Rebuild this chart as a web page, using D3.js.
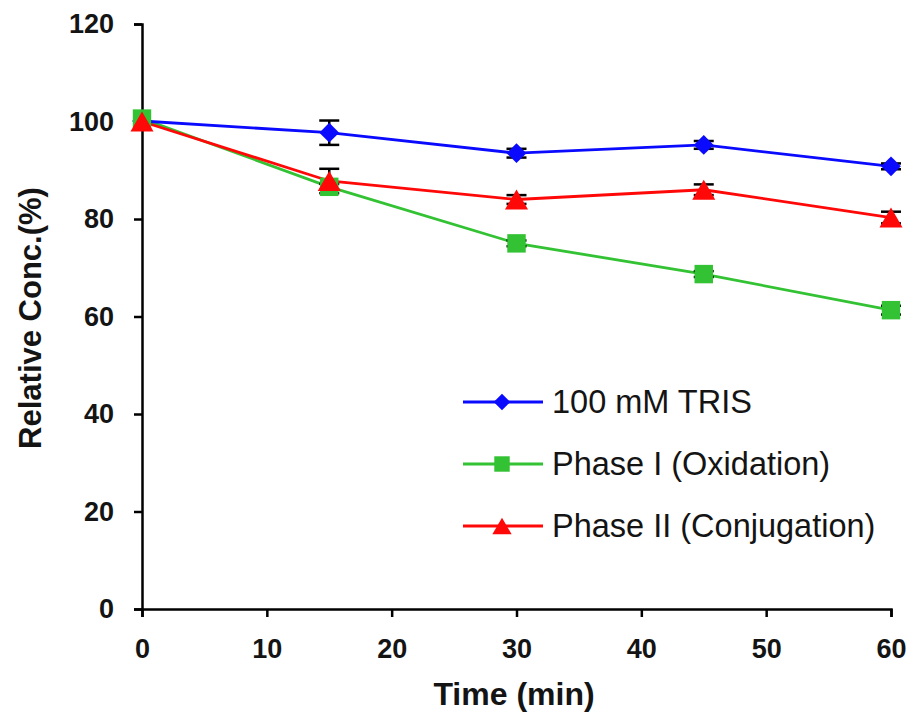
<!DOCTYPE html>
<html><head><meta charset="utf-8">
<script src="https://cdn.jsdelivr.net/npm/d3@7"></script>
<style>body{margin:0;background:#fff}svg{display:block}</style>
</head><body>
<svg id="c" width="915" height="720"></svg>
<script>
const times = [0, 15, 30, 45, 60];
const trisVals = [100.1, 97.7, 93.5, 95.2, 90.8];
const trisErr = [0.4, 2.5, 0.9, 0.8, 0.6];
const phase1Vals = [100.6, 86.6, 75.0, 68.7, 61.3];
const phase1Err = [0.4, 0.6, 0.6, 0.6, 0.9];
const phase2Vals = [100.0, 87.8, 84.0, 86.0, 80.3];
const phase2Err = [0.4, 2.5, 0.9, 1.1, 1.2];
const seriesNames = ["100 mM TRIS", "Phase I (Oxidation)", "Phase II (Conjugation)"];
const seriesColors = ["#0a0aff", "#33c233", "#ff0808"];
const seriesShapes = ["diamond", "square", "triangle"];
const xTicks = [0, 10, 20, 30, 40, 50, 60];
const yTicks = [0, 20, 40, 60, 80, 100, 120];

const svg = d3.select("#c");
const x = d3.scaleLinear().domain([0, 60]).range([142, 891]);
const y = d3.scaleLinear().domain([0, 120]).range([609, 24]);

const errs = [trisErr, phase1Err, phase2Err];
const series = [trisVals, phase1Vals, phase2Vals].map((v, i) => ({
  name: seriesNames[i], color: seriesColors[i], shape: seriesShapes[i],
  pts: times.map((t, j) => ({t, v: v[j], e: errs[i][j]}))
}));

const symSize = {diamond: 250, square: 340, triangle: 230};
function symType(shape) {
  return shape === "diamond" ? (d3.symbolDiamond2 || d3.symbolDiamond) : shape === "square" ? d3.symbolSquare : d3.symbolTriangle;
}
function triShift(size) { // shift so triangle bbox is centred on point
  const s = Math.sqrt(4 * size / Math.sqrt(3));
  return s * Math.sqrt(3) / 2 / 6;
}

const font = "'Liberation Sans', Arial, sans-serif";
const yAxis = svg.append("g").attr("transform", "translate(142,0)")
  .call(d3.axisLeft(y).tickValues(yTicks).tickSize(8).tickPadding(20));
const xAxis = svg.append("g").attr("transform", "translate(0,609)")
  .call(d3.axisBottom(x).tickValues(xTicks).tickSize(8).tickPadding(22));
[yAxis, xAxis].forEach(g => {
  g.select(".domain").attr("stroke", "#000").attr("stroke-width", 2.5);
  g.selectAll(".tick line").attr("stroke", "#000").attr("stroke-width", 2.5);
  g.selectAll("text").attr("fill", "#141414").style("font-family", font)
    .style("font-size", "27px").style("font-weight", "bold");
});

svg.append("text").attr("transform", "translate(41,318) rotate(-90)")
  .attr("text-anchor", "middle").style("font-family", font).style("font-size", "31px")
  .style("font-weight", "bold").attr("fill", "#141414").text("Relative Conc.(%)");
svg.append("text").attr("x", 514).attr("y", 705)
  .attr("text-anchor", "middle").style("font-family", font).style("font-size", "32px")
  .style("font-weight", "bold").attr("fill", "#141414").text("Time (min)");

const line = d3.line().x(d => x(d.t)).y(d => y(d.v));
[1, 2, 0].forEach(i => {
  const s = series[i];
  svg.append("path").datum(s.pts).attr("d", line).attr("fill", "none")
    .attr("stroke", s.color).attr("stroke-width", 2.8);
});
// error bars (behind markers)
series.forEach(s => {
  const g = svg.append("g").attr("stroke", "#000").attr("stroke-width", 2.5);
  s.pts.filter(d => d.t > 0).forEach(d => {
    const x0 = x(d.t), y1 = y(d.v + d.e), y2 = y(d.v - d.e);
    g.append("line").attr("x1", x0).attr("x2", x0).attr("y1", y1).attr("y2", y2);
    g.append("line").attr("x1", x0 - 10).attr("x2", x0 + 10).attr("y1", y1).attr("y2", y1);
    g.append("line").attr("x1", x0 - 10).attr("x2", x0 + 10).attr("y1", y2).attr("y2", y2);
  });
});
// markers: blue, then green, then red on top
[0, 1, 2].forEach(i => {
  const s = series[i];
  const sz = symSize[s.shape];
  const dy = s.shape === "triangle" ? triShift(sz) : 0;
  svg.append("g").selectAll("path").data(s.pts).join("path")
    .attr("transform", d => `translate(${x(d.t)},${y(d.v) + dy})`)
    .attr("d", d3.symbol().type(symType(s.shape)).size(sz)()).attr("fill", s.color);
});

// legend
const leg = svg.append("g");
series.forEach((s, i) => {
  const yy = 402 + i * 62;
  const sz = symSize[s.shape] * 0.7;
  leg.append("line").attr("x1", 463).attr("x2", 543).attr("y1", yy).attr("y2", yy)
    .attr("stroke", s.color).attr("stroke-width", 2.8);
  leg.append("path").attr("transform", `translate(502,${yy + (s.shape === "triangle" ? triShift(sz) : 0)})`)
    .attr("d", d3.symbol().type(symType(s.shape)).size(sz)()).attr("fill", s.color);
  leg.append("text").attr("x", 552).attr("y", yy).attr("dy", "0.35em")
    .style("font-family", font).style("font-size", "32.5px").attr("fill", "#141414").text(s.name);
});
</script>
</body></html>
